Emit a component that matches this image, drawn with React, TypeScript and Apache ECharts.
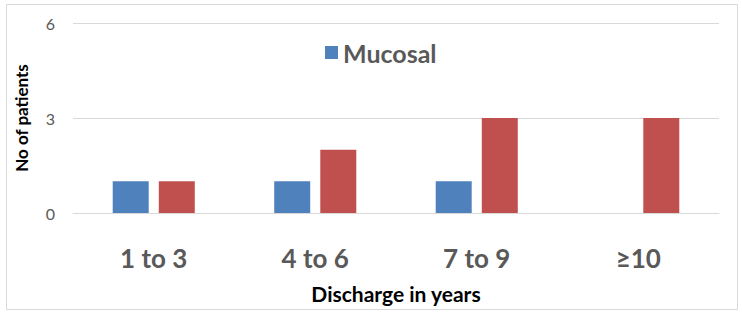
import React, { useEffect, useRef } from "react";
import * as echarts from "echarts";

const categories = ["1 to 3", "4 to 6", "7 to 9", "≥10"];
const mucosal = [1, 1, 1, 0];
const cutaneous = [1, 2, 3, 3];
const yTicks = { min: 0, max: 6, interval: 3 };

export default function App() {
  const ref = useRef<HTMLDivElement>(null);
  useEffect(() => {
    document.body.style.margin = "0";
    const chart = echarts.init(ref.current!, null, { renderer: "svg" });
    const font = "Lato, 'Open Sans', sans-serif";
    chart.setOption({
      animation: false,
      textStyle: { fontFamily: font },
      graphic: [
        {
          type: "rect",
          shape: { x: 6.5, y: 4.5, width: 731, height: 305 },
          style: { fill: "none", stroke: "#d9d9d9", lineWidth: 1 },
          silent: true,
        },
      ],
      legend: {
        data: ["Mucosal"],
        left: 320,
        top: 35,
        itemWidth: 13,
        itemHeight: 13,
        icon: "rect",
        itemGap: 8,
        textStyle: { fontSize: 25, fontWeight: "bold", color: "#595959", fontFamily: font },
      },
      grid: { left: 73, right: 23, top: 23, bottom: 103, containLabel: false },
      xAxis: {
        type: "category",
        data: categories,
        axisLine: { lineStyle: { color: "#d9d9d9" } },
        axisTick: { show: false },
        axisLabel: {
          fontSize: 26,
          fontWeight: "bold",
          color: "#595959",
          margin: 32,
          fontFamily: font,
        },
        name: "Discharge in years",
        nameLocation: "middle",
        nameGap: 70,
        nameTextStyle: { fontSize: 21, fontWeight: "bold", color: "#000", fontFamily: font },
      },
      yAxis: {
        type: "value",
        min: yTicks.min,
        max: yTicks.max,
        interval: yTicks.interval,
        axisLine: { show: false },
        axisTick: { show: false },
        splitLine: { lineStyle: { color: "#d9d9d9" } },
        axisLabel: { fontSize: 16, color: "#595959", margin: 18, fontFamily: font },
        name: "No of patients",
        nameLocation: "middle",
        nameGap: 43,
        nameTextStyle: { fontSize: 17, fontWeight: "bold", color: "#000", fontFamily: font },
      },
      series: [
        {
          name: "Mucosal",
          type: "bar",
          data: mucosal,
          barWidth: 36,
          barGap: "28%",
          itemStyle: { color: "#4F81BD" },
        },
        {
          name: "Cutaneous",
          type: "bar",
          data: cutaneous,
          barWidth: 36,
          barGap: "28%",
          itemStyle: { color: "#C0504D" },
        },
      ],
    });
    return () => chart.dispose();
  }, []);
  return <div ref={ref} style={{ width: 742, height: 316 }} />;
}
